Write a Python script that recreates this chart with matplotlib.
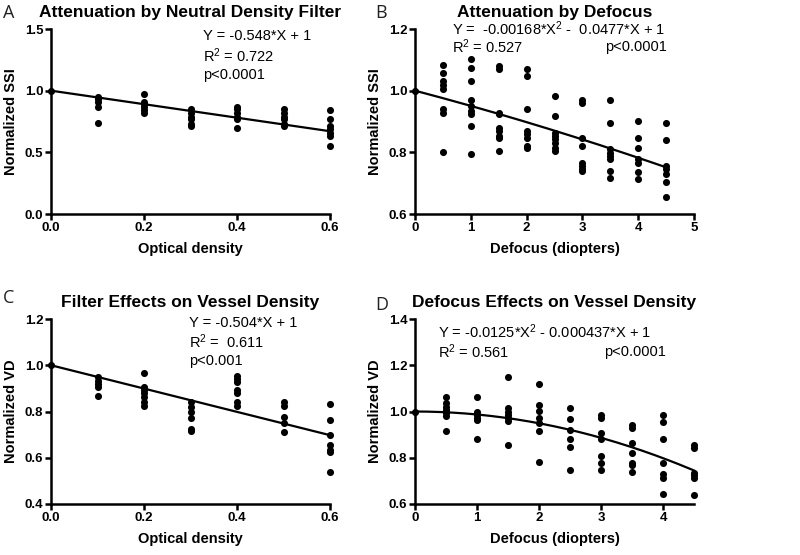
"""
four-panel prism-style figure: SSI / vessel density attenuation
by neutral density filter and by defocus.
"""

import numpy as np
import matplotlib.pyplot as plt
import matplotlib as mpl


# --- data ---

od_levels = [0.0, 0.1, 0.2, 0.3, 0.4, 0.5, 0.6]
ssi_filter = [
    [1.0],
    [0.95, 0.93, 0.91, 0.87, 0.74],
    [0.97, 0.91, 0.89, 0.87, 0.84, 0.82],
    [0.85, 0.82, 0.79, 0.77, 0.73, 0.71],
    [0.87, 0.85, 0.82, 0.79, 0.77, 0.70],
    [0.85, 0.82, 0.79, 0.77, 0.73, 0.71],
    [0.84, 0.77, 0.71, 0.69, 0.66, 0.63, 0.55],
]
vd_filter = [
    [1.0],
    [0.948, 0.933, 0.919, 0.905, 0.868],
    [0.965, 0.907, 0.893, 0.879, 0.861, 0.840, 0.822],
    [0.843, 0.818, 0.796, 0.772, 0.724, 0.714],
    [0.955, 0.941, 0.926, 0.894, 0.880, 0.840, 0.822],
    [0.843, 0.825, 0.778, 0.749, 0.710],
    [0.832, 0.765, 0.700, 0.657, 0.635, 0.623, 0.540],
]

defocus_levels = [0.0, 0.5, 1.0, 1.5, 2.0, 2.5, 3.0, 3.5, 4.0, 4.5]
ssi_defocus = [
    [1.0],
    [1.082, 1.057, 1.032, 1.019, 1.005, 0.939, 0.928, 0.802],
    [1.102, 1.073, 1.032, 0.971, 0.949, 0.935, 0.923, 0.885, 0.794],
    [1.079, 1.071, 0.928, 0.923, 0.880, 0.869, 0.853, 0.847, 0.804],
    [1.070, 1.046, 0.941, 0.869, 0.858, 0.847, 0.820, 0.813],
    [0.982, 0.917, 0.863, 0.853, 0.842, 0.831, 0.815, 0.804],
    [0.971, 0.960, 0.847, 0.820, 0.767, 0.756, 0.745, 0.740],
    [0.969, 0.894, 0.810, 0.799, 0.788, 0.777, 0.738, 0.716],
    [0.901, 0.847, 0.813, 0.777, 0.767, 0.737, 0.713],
    [0.896, 0.839, 0.756, 0.745, 0.729, 0.704, 0.654],
]
vd_defocus = [
    [1.0],
    [1.064, 1.036, 1.021, 1.007, 0.993, 0.979, 0.917],
    [1.064, 1.000, 0.986, 0.974, 0.964, 0.879],
    [1.150, 1.014, 1.000, 0.986, 0.971, 0.957, 0.857],
    [1.121, 1.029, 1.003, 0.974, 0.950, 0.917, 0.783],
    [1.014, 0.969, 0.921, 0.879, 0.847, 0.746],
    [0.986, 0.971, 0.907, 0.879, 0.807, 0.779, 0.746],
    [0.940, 0.929, 0.864, 0.821, 0.779, 0.769, 0.740],
    [0.986, 0.953, 0.879, 0.779, 0.731, 0.714, 0.643],
    [0.857, 0.843, 0.736, 0.724, 0.711, 0.640],
]

# fit coefficients (a*x^2 + b*x + 1) as printed on the panels
fit_ssi_filter = (0.0, -0.548)
fit_vd_filter = (0.0, -0.504)
fit_ssi_defocus = (-0.00168, -0.0477)
fit_vd_defocus = (-0.0125, -0.000437)


# --- style ---

W, H = 800, 555
FONT = "Liberation Sans"

mpl.rcParams.update({
    "font.family": FONT,
    "mathtext.default": "regular",
    "axes.spines.top": False,
    "axes.spines.right": False,
    "axes.linewidth": 1.8,
    "xtick.major.width": 1.8,
    "ytick.major.width": 1.8,
    "xtick.major.size": 4,
    "ytick.major.size": 4,
    "xtick.major.pad": 1.5,
    "ytick.major.pad": 1.5,
    "xtick.labelsize": 9.5,
    "ytick.labelsize": 9.5,
})


def px_axes(fig, left, top, right, bottom):
    return fig.add_axes([left / W, 1 - bottom / H,
                         (right - left) / W, (bottom - top) / H])


def ftext(fig, x, y, s, **kw):
    kw.setdefault("fontsize", 10.5)
    kw.setdefault("va", "center")
    fig.text(x / W, 1 - y / H, s, **kw)


def panel(ax, levels, groups, fit, xmax_fit, xlim, ylim, xticks, yticks,
          xfmt, yfmt, title, xlabel, ylabel):
    xs = np.concatenate([[lv] * len(g) for lv, g in zip(levels, groups)])
    ys = np.concatenate(groups)
    ax.scatter(xs, ys, s=26, color="black", linewidths=0,
               zorder=3, clip_on=False)

    a, b = fit
    xf = np.linspace(0, xmax_fit, 200)
    ax.plot(xf, a * xf ** 2 + b * xf + 1, color="black", lw=1.6,
            zorder=2, clip_on=False)

    ax.set_xlim(*xlim)
    ax.set_ylim(*ylim)
    ax.set_xticks(xticks)
    ax.set_yticks(yticks)
    ax.set_xticklabels([xfmt.format(t) for t in xticks], fontweight="bold")
    ax.set_yticklabels([yfmt.format(t) for t in yticks], fontweight="bold")
    ax.set_title(title, fontsize=12.5, fontweight="bold", pad=9)
    ax.set_xlabel(xlabel, fontsize=10.5, fontweight="bold", labelpad=6)
    ax.set_ylabel(ylabel, fontsize=10.5, fontweight="bold", labelpad=5)


fig = plt.figure(figsize=(W / 100, H / 100), dpi=100)

axA = px_axes(fig, 51, 29, 330, 214)
panel(axA, od_levels, ssi_filter, fit_ssi_filter, 0.6, (0, 0.6), (0, 1.5),
      [0, 0.2, 0.4, 0.6], [0, 0.5, 1.0, 1.5], "{:.1f}", "{:.1f}",
      "Attenuation by Neutral Density Filter", "Optical density",
      "Normalized SSI")

axB = px_axes(fig, 415, 29, 694, 214)
panel(axB, defocus_levels, ssi_defocus, fit_ssi_defocus, 4.5, (0, 5),
      (0.6, 1.2), [0, 1, 2, 3, 4, 5], [0.6, 0.8, 1.0, 1.2], "{:g}", "{:.1f}",
      "Attenuation by Defocus", "Defocus (diopters)", "Normalized SSI")

axC = px_axes(fig, 51, 319, 330, 504)
panel(axC, od_levels, vd_filter, fit_vd_filter, 0.6, (0, 0.6), (0.4, 1.2),
      [0, 0.2, 0.4, 0.6], [0.4, 0.6, 0.8, 1.0, 1.2], "{:.1f}", "{:.1f}",
      "Filter Effects on Vessel Density", "Optical density",
      "Normalized VD")

axD = px_axes(fig, 415, 319, 694, 504)
panel(axD, defocus_levels, vd_defocus, fit_vd_defocus, 4.5, (0, 4.5),
      (0.6, 1.4), [0, 1, 2, 3, 4], [0.6, 0.8, 1.0, 1.2, 1.4], "{:g}",
      "{:.1f}", "Defocus Effects on Vessel Density", "Defocus (diopters)",
      "Normalized VD")

# panel letters
for lab, x, y in [("A", 3, 13), ("B", 375, 13), ("C", 3, 298), ("D", 375, 305)]:
    ftext(fig, x, y, lab, fontsize=13, family="Open Sans", color="#222222")

# fit annotations
ftext(fig, 203, 36, "Y = -0.548*X + 1")
ftext(fig, 203, 56, "R$^{2}$ = 0.722")
ftext(fig, 203, 75, "p<0.0001")

ftext(fig, 452, 29, "Y =  -0.00168*X$^{2}$ -  0.0477*X + 1")
ftext(fig, 452, 47, "R$^{2}$ = 0.527")
ftext(fig, 667, 47, "p<0.0001", ha="right")

ftext(fig, 189, 323, "Y = -0.504*X + 1")
ftext(fig, 189, 342, "R$^{2}$ =  0.611")
ftext(fig, 189, 361, "p<0.001")

ftext(fig, 438, 332, "Y = -0.0125*X$^{2}$ - 0.000437*X + 1")
ftext(fig, 438, 352, "R$^{2}$ = 0.561")
ftext(fig, 666, 352, "p<0.0001", ha="right")

fig.savefig("out.png", dpi=100)
